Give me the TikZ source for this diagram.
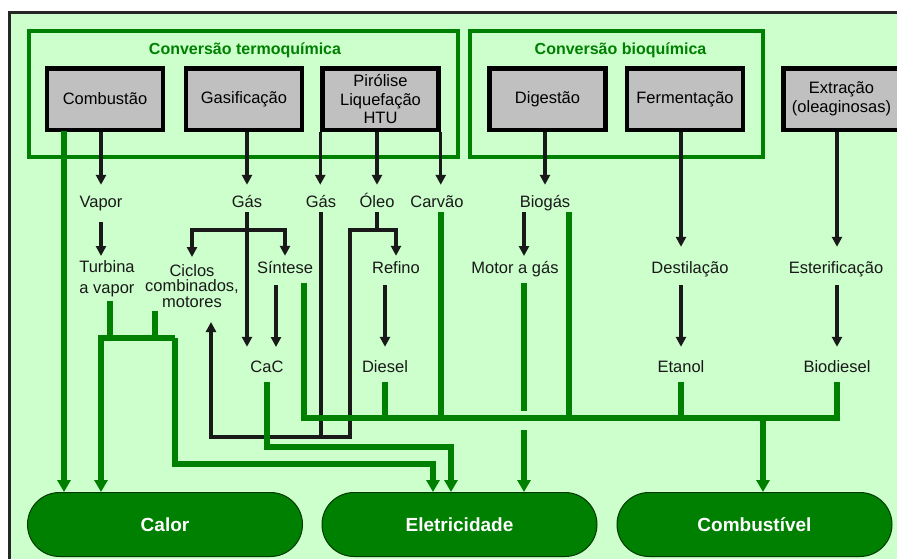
\documentclass[tikz,border=0pt]{standalone}
\usepackage{fontspec}
\setmainfont{Liberation Sans}
\usetikzlibrary{arrows.meta}

\definecolor{bggreen}{HTML}{CCFFCC}
\definecolor{lgreen}{HTML}{008000}
\definecolor{boxgray}{HTML}{C0C0C0}

\begin{document}
\begin{tikzpicture}[x=1pt,y=-1pt,
    lbl/.style={inner sep=0pt,text height=12pt,text depth=3.5pt,text=black!90,
      font=\fontsize{16.5}{18.5}\selectfont},
    mlbl/.style={inner sep=0pt,align=center,anchor=north,text=black!90,
      font=\fontsize{16.5}{#1}\selectfont},
    procbox/.style={draw=black,line width=4.5pt,fill=boxgray,minimum width=116pt,
      minimum height=61.5pt,inner sep=0pt,align=center,
      font=\fontsize{16.5}{18.5}\selectfont},
    groupbox/.style={draw=lgreen,line width=4pt},
    grouptitle/.style={text=lgreen,inner sep=0pt,anchor=base,
      font=\bfseries\fontsize{16}{18}\selectfont},
    pill/.style={draw=black!55!lgreen,line width=1pt,fill=lgreen,rounded corners=32pt,
      minimum width=275pt,minimum height=64pt,text=white,
      font=\bfseries\fontsize{19}{22}\selectfont},
    blkline/.style={draw=black!90,line width=3.3pt},
    blk/.style={blkline,-{Triangle[width=10pt,length=10pt]}},
    gline/.style={draw=lgreen,line width=5.5pt},
    garr/.style={gline,-{Triangle[width=13pt,length=12pt]}}]

  \useasboundingbox (0,0) rectangle (897,558);
  \fill[white] (0,0) rectangle (897,558);
  \draw[black!85,line width=3pt,fill=bggreen] (9,12.5) rectangle (905,570);

  % conversion groups
  \draw[groupbox] (28.5,31) rectangle (458,156.5);
  \draw[groupbox] (470,31) rectangle (763,156.5);
  \node[grouptitle] (tthermo) at (245,54) {Conversão termoquímica};
  \node[grouptitle] (tbio) at (620.5,54) {Conversão bioquímica};

  % processes
  \node[procbox] (cmb)  at (105,99)   {Combustão};
  \node[procbox] (gasf) at (244,99)   {Gasificação};
  \node[procbox] (piro) at (380.5,99) {Pirólise\\Liquefação\\HTU};
  \node[procbox] (dig)  at (547.5,99) {Digestão};
  \node[procbox] (ferm) at (685,99)   {Fermentação};
  \node[procbox] (extr) at (841.5,99) {Extração\\(oleaginosas)};

  % products, first row
  \node[lbl] (vapor)  at (101,202.75) {Vapor};
  \node[lbl] (gas1)   at (247,202.75) {Gás};
  \node[lbl] (gas2)   at (321,202.75) {Gás};
  \node[lbl] (oleo)   at (377,202.75) {Óleo};
  \node[lbl] (carvao) at (437,202.75) {Carvão};
  \node[lbl] (biogas) at (545,202.75) {Biogás};

  % second row
  \node[mlbl=21]   (turbina) at (107,260) {Turbina\\a vapor};
  \node[mlbl=15.5] (ciclos)  at (192,264) {Ciclos\\combinados,\\motores};
  \node[lbl] (sintese) at (285,268.75) {Síntese};
  \node[lbl] (refino)  at (396,268.75) {Refino};
  \node[lbl] (motor)   at (515,268.75) {Motor a gás};
  \node[lbl] (dest)    at (690,268.75) {Destilação};
  \node[lbl] (ester)   at (836,268.75) {Esterificação};

  % third row
  \node[lbl] (cac)       at (267,367.75) {CaC};
  \node[lbl] (diesel)    at (385,367.75) {Diesel};
  \node[lbl] (etanol)    at (681,367.75) {Etanol};
  \node[lbl] (biodiesel) at (837,367.75) {Biodiesel};

  % end uses
  \node[pill] (calor)   at (165,524.5)   {Calor};
  \node[pill] (eletr)   at (459.5,524.5) {Eletricidade};
  \node[pill] (combust) at (754.5,524.5) {Combustível};

  % junctions
  \coordinate (gj) at (247,230);
  \coordinate (sc) at (276,347);
  \coordinate (oj) at (377,230);
  \coordinate (ol) at (350,230);
  \coordinate (lb) at (350,437);
  \coordinate (lp) at (211,437);
  \coordinate (cup) at (211,322);
  \coordinate (mgt) at (524,256);
  \coordinate (mg1) at (524,411);
  \coordinate (mg2) at (524,430);
  \coordinate (cg) at (64,131);
  \coordinate (tj) at (110,338);
  \coordinate (cj) at (155,338);
  \coordinate (hl) at (101,338);
  \coordinate (hr) at (175,338);
  \coordinate (e1) at (433,464);
  \coordinate (e2) at (451,447);
  \coordinate (b0) at (304,418);
  \coordinate (b1) at (837,418);
  \coordinate (cv) at (441,418);
  \coordinate (bg) at (569,418);
  \coordinate (bc) at (763,418);

  % black flows
  \draw[blk,shorten >=10pt] (vapor |- cmb.south) -- (vapor.north);
  \draw[blk,shorten >=10pt] (gas1 |- gasf.south) -- (gas1.north);
  \draw[blk,shorten >=10pt] (piro.south west) -- (piro.south west |- gas2.north);
  \draw[blk,shorten >=10pt] (oleo |- piro.south) -- (oleo.north);
  \draw[blk,shorten >=10pt] (piro.south east) -- (piro.south east |- carvao.north);
  \draw[blk,shorten >=10pt] (biogas |- dig.south) -- (biogas.north);
  \draw[blk,shorten >=14pt] (etanol |- ferm.south) -- (etanol |- dest.north);
  \draw[blk,shorten >=14pt] (biodiesel |- extr.south) -- (biodiesel |- ester.north);

  \draw[blk,shorten <=11.5pt,shorten >=4pt] (vapor.south) -- (vapor |- turbina.north);
  \draw[blk,shorten <=1.5pt,shorten >=13pt] (gas1.south) -- (gas1 |- cac.north);
  \draw[blk,shorten >=7pt] (gj) -| (ciclos.north);
  \draw[blk,shorten >=5pt] (gj) -| (sintese.north);
  \draw[blk,shorten <=8.5pt] (sc |- sintese.south) -- (sc);
  \draw[blkline,shorten <=1.5pt] (oleo.south) -- (oj);
  \draw[blk,shorten >=5pt] (oj) -| (refino.north);
  \draw[blk] (oj) -- (ol) -- (lb) -- (lp) -- (cup);
  \draw[blkline,shorten <=1.5pt] (gas2.south) -- (gas2 |- lb);
  \draw[blk,shorten <=8.5pt,shorten >=13pt] (diesel |- refino.south) -- (diesel.north);
  \draw[blk,shorten <=1.5pt] (mgt |- biogas.south) -- (mgt);
  \draw[blk,shorten <=8.5pt,shorten >=13pt] (etanol |- dest.south) -- (etanol.north);
  \draw[blk,shorten <=8.5pt,shorten >=13pt] (biodiesel |- ester.south) -- (biodiesel.north);

  % green flows to end uses
  \draw[garr] (cg) -- (cg |- calor.north);
  \draw[gline,shorten <=4.5pt] (tj |- turbina.south) -- (tj);
  \draw[gline,shorten <=3pt] (cj |- ciclos.south) -- (cj);
  \draw[garr] (hr) -- (hl) -- (hl |- calor.north);
  \draw[garr] (hr) |- (e1) -- (e1 |- eletr.north);
  \draw[garr,shorten <=6.5pt] (cac.south) |- (e2) -- (e2 |- eletr.north);
  \draw[gline,shorten <=6.5pt,shorten >=6.5pt] (b0 |- sintese.south) -- (b0) -- (b1)
    -- (b1 |- biodiesel.south);
  \draw[gline,shorten <=6.5pt] (diesel.south) -- (diesel |- b0);
  \draw[gline,shorten <=1pt] (cv |- carvao.south) -- (cv);
  \draw[gline,shorten <=1pt] (bg |- biogas.south) -- (bg);
  \draw[gline,shorten <=6.5pt] (etanol.south) -- (etanol |- b0);
  \draw[gline,shorten <=6.5pt] (mg1 |- motor.south) -- (mg1);
  \draw[garr] (mg2) -- (mg2 |- eletr.north);
  \draw[garr] (bc) -- (bc |- combust.north);
\end{tikzpicture}
\end{document}
